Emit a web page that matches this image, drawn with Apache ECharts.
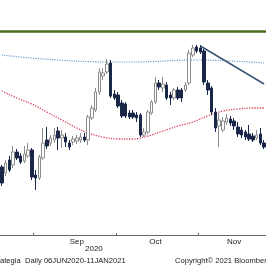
<!DOCTYPE html>
<html><head><meta charset="utf-8">
<script src="https://cdn.jsdelivr.net/npm/echarts@6/dist/echarts.min.js"></script>
<style>html,body{margin:0;padding:0;background:#fff}#c{width:266px;height:266px}</style>
</head><body><div id="c"></div>
<script>
const dates = [
 '2020-08-19','2020-08-20','2020-08-21','2020-08-24','2020-08-25','2020-08-26','2020-08-27','2020-08-28','2020-08-31',
 '2020-09-01','2020-09-02','2020-09-03','2020-09-04','2020-09-07','2020-09-08','2020-09-09','2020-09-10','2020-09-11',
 '2020-09-14','2020-09-15','2020-09-16','2020-09-17','2020-09-18','2020-09-21','2020-09-22','2020-09-23','2020-09-24',
 '2020-09-25','2020-09-28','2020-09-29','2020-09-30',
 '2020-10-01','2020-10-02','2020-10-05','2020-10-06','2020-10-07','2020-10-08','2020-10-09','2020-10-12','2020-10-13',
 '2020-10-14','2020-10-15','2020-10-16','2020-10-19','2020-10-20','2020-10-21','2020-10-22','2020-10-23','2020-10-26',
 '2020-10-27','2020-10-28','2020-10-29','2020-10-30',
 '2020-11-02','2020-11-03','2020-11-04','2020-11-05','2020-11-06','2020-11-09','2020-11-10','2020-11-11','2020-11-12',
 '2020-11-13','2020-11-16','2020-11-17','2020-11-18','2020-11-19','2020-11-20','2020-11-23','2020-11-24','2020-11-25'
];
// [open, close, low, high]
const candles = [
 [68,52,49,70],[62,72,59,75],[75,65,63,79],[70,83,67,89],[83,77,75,86],[79,73,71,82],[74,81,72,89],[79,85,77,92],
 [85,58,55,87],[60,57,45,65],[57,78,55,80],[77,92,75,107],[95,89,86,108],[92,97,89,100],[95,100,92,107],[104,97,85,108],
 [97,100,87,105],[98,93,88,102],[92,88,85,95],[93,96,90,99],[94,97,91,100],[95,98,92,102],[98,95,93,102],[95,118,90,120],
 [117,127,115,130],[125,143,123,147],[143,163,140,167],[159,162,155,167],[163,171,161,176],[172,139,137,175],[141,137,135,145],
 [140,129,127,143],[132,119,117,135],[131,119,117,133],[122,118,116,125],[122,118,116,125],[120,117,113,123],[120,100,98,122],
 [100,103,98,107],[103,123,101,125],[122,133,120,135],[133,152,131,158],[152,148,145,155],[147,151,143,158],[150,137,135,153],
 [140,137,130,143],[137,145,135,147],[145,137,135,148],[145,137,133,147],[145,150,143,153],[152,182,150,185],[180,187,178,190],
 [188,184,182,190],[187,183,181,190],[184,153,150,186],[152,145,140,155],[147,123,120,149],[123,107,103,127],[109,115,88,122],
 [105,114,103,118],[113,117,110,121],[116,112,109,119],[114,109,105,117],[108,101,98,113],[105,100,97,108],[103,98,95,105],
 [101,96,94,110],[99,95,93,102],[97,100,95,105],[101,92,90,107],[92,88,86,95]
];
const maDates = ['2020-08-19','2020-08-25','2020-08-31','2020-09-04','2020-09-10','2020-09-16','2020-09-21','2020-09-25','2020-10-01','2020-10-07','2020-10-13','2020-10-19','2020-10-23','2020-10-29','2020-11-04','2020-11-10','2020-11-16','2020-11-20','2020-11-25'];
const maValues = [144,137,131,123,115,107,102,98,96,96,99,104,109,113,119,124,126,127,127];
const longDates = ['2020-08-19','2020-09-03','2020-09-29','2020-10-07','2020-10-30','2020-11-25'];
const longValues = [180,176,173,173,175,172];
const trendDates = ['2020-11-02','2020-11-25'];
const trendValues = [189,151];
const resistance = 204;
const monthStarts = ['2020-09-01','2020-10-01','2020-11-02'];
const monthLabelDates = {'2020-09-16':'Sep','2020-10-15':'Oct','2020-11-13':'Nov'};
const yearLabel = '2020';
const footLeft = 'ategia  Daily 06JUN2020-11JAN2021';
const footRight = 'Copyright\u00A9 2021 Bloomberg Finance L.P.';

const font = 'Liberation Sans';
const chart = echarts.init(document.getElementById('c'), null, {renderer:'canvas'});
chart.setOption({
  animation:false,
  backgroundColor:'#ffffff',
  grid:{left:0,right:0,top:0,bottom:31,containLabel:false},
  xAxis:{type:'category',data:dates,boundaryGap:true,
    axisLine:{show:true,lineStyle:{color:'#666',width:1}},
    axisTick:{show:true,inside:true,length:2,lineStyle:{color:'#666'},
      interval:(i,v)=>monthStarts.includes(v)},
    axisLabel:{show:true,margin:3,fontFamily:font,fontSize:8,color:'#222',
      interval:(i,v)=>monthLabelDates[v]!==undefined,
      formatter:(v)=>monthLabelDates[v]||''},
    splitLine:{show:false}},
  yAxis:{type:'value',min:0,max:235,show:false,splitLine:{show:false}},
  graphic:[
    {type:'text',left:85,top:245,style:{text:yearLabel,font:'8px "Liberation Sans"',fill:'#222'}},
    {type:'text',left:0,top:257,style:{text:footLeft,font:'7.6px "Liberation Sans"',fill:'#222'}},
    {type:'text',left:175,top:257,style:{text:footRight,font:'7.6px "Liberation Sans"',fill:'#222'}}
  ],
  series:[
    {type:'line',data:longDates.map((d,i)=>[d,longValues[i]]),smooth:0.4,symbol:'none',
     lineStyle:{color:'#6f9fcc',type:'dotted',width:1.2},z:2,
     markLine:{silent:true,symbol:'none',label:{show:false},
       lineStyle:{color:'#4e6d1c',width:2.6,type:'solid'},data:[{yAxis:resistance}]}},
    {type:'line',data:maDates.map((d,i)=>[d,maValues[i]]),smooth:0.4,symbol:'none',
     lineStyle:{color:'#d8475d',type:'dotted',width:1.3},z:2},
    {type:'candlestick',data:candles,barWidth:3,z:3,
     itemStyle:{color:'#ffffff',color0:'#1b2748',borderColor:'#8c8c8c',borderColor0:'#1b2748',borderWidth:1}},
    {type:'line',data:trendDates.map((d,i)=>[d,trendValues[i]]),symbol:'none',
     lineStyle:{color:'#3d5677',width:1.5},z:4}
  ]
});
</script></body></html>
